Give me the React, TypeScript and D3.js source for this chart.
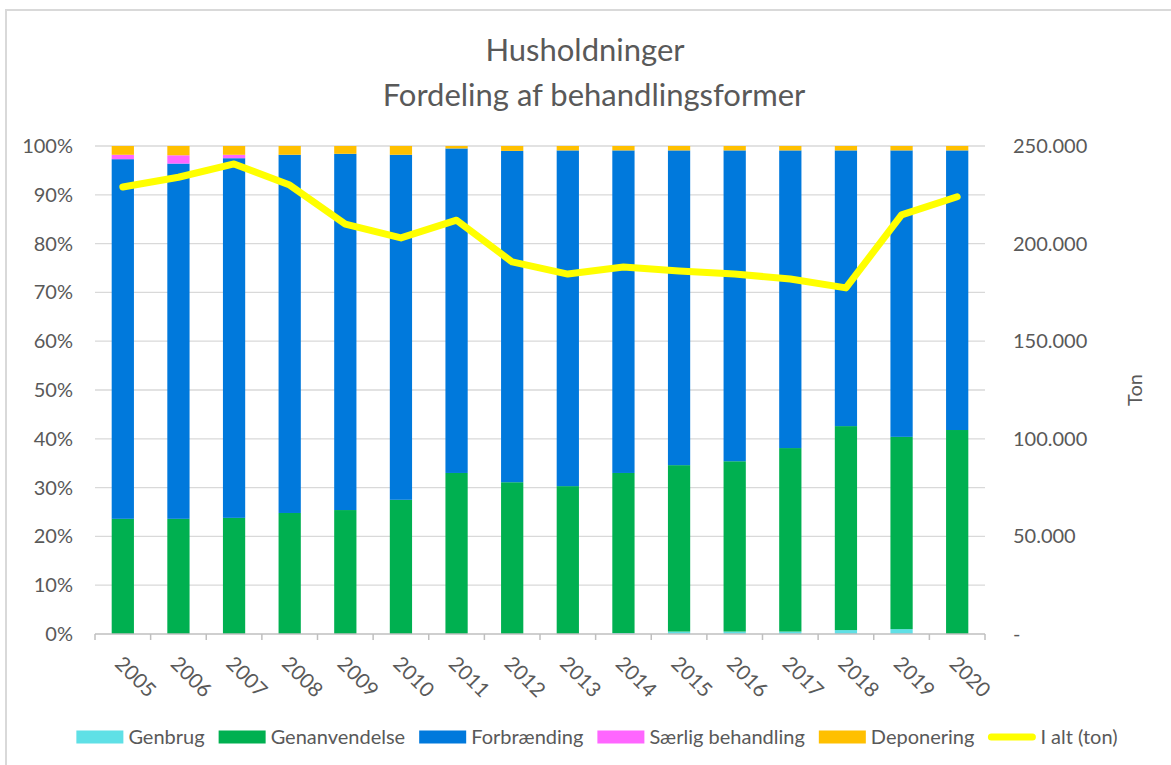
import React, { useEffect, useRef } from "react";
import * as d3 from "d3";

const years = ["2005","2006","2007","2008","2009","2010","2011","2012","2013","2014","2015","2016","2017","2018","2019","2020"];
const genbrug = [0,0,0,0,0,0,0,0,0,0.2,0.5,0.5,0.5,0.8,1.0,0];
const genanvendelse = [23.6,23.6,23.8,24.8,25.4,27.5,33.0,31.1,30.3,32.8,34.1,34.9,37.6,41.8,39.4,41.8];
const forbraending = [73.7,72.8,73.7,73.4,73.0,70.7,66.5,67.9,68.8,66.1,64.5,63.7,61.0,56.5,58.7,57.3];
const saerlig = [0.9,1.7,0.7,0,0,0,0,0,0,0,0,0,0,0,0,0];
const deponering = [1.8,1.9,1.8,1.8,1.6,1.8,0.5,1.0,0.9,0.9,0.9,0.9,0.9,0.9,0.9,0.9];
const totalTon = [229000,234000,240800,230000,210000,202900,212000,190600,184400,188000,186000,184400,181900,177300,214700,224000];

const seriesNames = ["Genbrug","Genanvendelse","Forbrænding","Særlig behandling","Deponering"];
const seriesColors = ["#5FE0E6","#00B050","#0079DC","#FF66FF","#FFC000"];
const lineName = "I alt (ton)";
const lineColor = "#FFFF00";
const leftTicks = [0,10,20,30,40,50,60,70,80,90,100];
const rightTicks = [0,50000,100000,150000,200000,250000];

const W = 1171, H = 765;
const FONT = "Lato, 'Open Sans', sans-serif";
const TXT = "#595959";

export default function App() {
  const ref = useRef<SVGSVGElement>(null);
  useEffect(() => {
    const svg = d3.select(ref.current);
    svg.selectAll("*").remove();
    const m = { left: 95, right: 985, top: 146, bottom: 634 };

    svg.append("rect").attr("x", 0).attr("y", 0).attr("width", W).attr("height", H).attr("fill", "#fff");
    // frame
    svg.append("path").attr("d", `M6,${H + 5} L6,10 L${W + 5},10`).attr("fill", "none").attr("stroke", "#D9D9D9").attr("stroke-width", 2);

    // title
    const title = svg.append("text").attr("text-anchor", "middle").attr("font-family", FONT).attr("fill", TXT).attr("font-size", 31);
    title.append("tspan").attr("x", 585).attr("y", 61).text("Husholdninger");
    title.append("tspan").attr("x", 594).attr("y", 106).text("Fordeling af behandlingsformer");

    const xb = d3.scaleBand<string>().domain(years).range([m.left, m.right]);
    const y = d3.scaleLinear().domain([0, 100]).range([m.bottom, m.top]);
    const y2 = d3.scaleLinear().domain([0, 250000]).range([m.bottom, m.top]);

    // gridlines
    svg.append("g").selectAll("line").data(leftTicks.slice(1)).join("line")
      .attr("x1", m.left).attr("x2", m.right).attr("y1", d => y(d)).attr("y2", d => y(d))
      .attr("stroke", "#D9D9D9").attr("stroke-width", 1.3);

    // stacked bars
    const rows = years.map((yr, i) => ({ year: yr, s0: genbrug[i], s1: genanvendelse[i], s2: forbraending[i], s3: saerlig[i], s4: deponering[i] }));
    const stack = d3.stack<any>().keys(["s0","s1","s2","s3","s4"])(rows);
    const bw = xb.bandwidth() * 0.4;
    svg.append("g").selectAll("g").data(stack).join("g").attr("fill", (_d, i) => seriesColors[i])
      .selectAll("rect").data(d => d).join("rect")
      .attr("x", d => (xb(d.data.year) as number) + xb.bandwidth() / 2 - bw / 2)
      .attr("width", bw)
      .attr("y", d => y(d[1]))
      .attr("height", d => Math.max(0, y(d[0]) - y(d[1])));

    // x axis line + ticks
    const ax = svg.append("g").attr("stroke", "#BFBFBF").attr("stroke-width", 1.5);
    ax.append("line").attr("x1", m.left).attr("x2", m.right).attr("y1", m.bottom).attr("y2", m.bottom);
    const bounds = years.map(yr => xb(yr) as number).concat([m.right]);
    ax.selectAll("line.t").data(bounds).join("line").attr("class", "t")
      .attr("x1", d => d).attr("x2", d => d).attr("y1", m.bottom).attr("y2", m.bottom + 6);

    // x labels
    svg.append("g").selectAll("text").data(years).join("text")
      .attr("transform", d => `translate(${(xb(d) as number) + xb.bandwidth() / 2 - 9},${m.bottom + 31}) rotate(45)`)
      .attr("font-family", FONT).attr("font-size", 20.5).attr("fill", TXT).text(d => d);

    // left labels
    svg.append("g").selectAll("text").data(leftTicks).join("text")
      .attr("x", 73).attr("y", d => y(d)).attr("dy", "0.35em").attr("text-anchor", "end")
      .attr("font-family", FONT).attr("font-size", 20).attr("fill", TXT).text(d => d + "%");

    // right labels
    const fmt = (v: number) => v === 0 ? "-" : d3.format(",")(v).replace(/,/g, ".");
    svg.append("g").selectAll("text").data(rightTicks).join("text")
      .attr("x", 1013).attr("y", d => y2(d)).attr("dy", "0.35em")
      .attr("font-family", FONT).attr("font-size", 20).attr("fill", TXT).text(d => fmt(d));
    svg.append("text").attr("transform", `translate(1142,${(m.top + m.bottom) / 2}) rotate(-90)`)
      .attr("text-anchor", "middle").attr("font-family", FONT).attr("font-size", 20).attr("fill", TXT).text("Ton");

    // line
    const line = d3.line<number>().x((_d, i) => (xb(years[i]) as number) + xb.bandwidth() / 2).y(d => y2(d));
    svg.append("path").datum(totalTon).attr("d", line).attr("fill", "none").attr("stroke", lineColor)
      .attr("stroke-width", 7).attr("stroke-linejoin", "round").attr("stroke-linecap", "round");

    // legend
    const lg = svg.append("g");
    let cx = 0;
    const items = seriesNames.map((n, i) => ({ n, c: seriesColors[i], line: false })).concat([{ n: lineName, c: lineColor, line: true }]);
    items.forEach(it => {
      const g = lg.append("g").attr("transform", `translate(${cx},0)`);
      if (it.line) {
        g.append("line").attr("x1", 3).attr("x2", 44).attr("y1", 0).attr("y2", 0).attr("stroke", it.c).attr("stroke-width", 7).attr("stroke-linecap", "round");
      } else {
        g.append("rect").attr("x", 0).attr("y", -6.5).attr("width", 47).attr("height", 13).attr("fill", it.c);
      }
      const t = g.append("text").attr("x", 52).attr("y", 0).attr("dy", "0.35em").attr("font-family", FONT).attr("font-size", 20).attr("fill", TXT).text(it.n);
      const w = (t.node() as SVGTextElement).getComputedTextLength();
      cx += 52 + w + 14;
    });
    const total = cx - 14;
    lg.attr("transform", `translate(${597 - total / 2},737)`);
  }, []);
  return (
    <div style={{ position: "absolute", left: 0, top: 0 }}>
      <svg ref={ref} width={W} height={H} />
    </div>
  );
}
